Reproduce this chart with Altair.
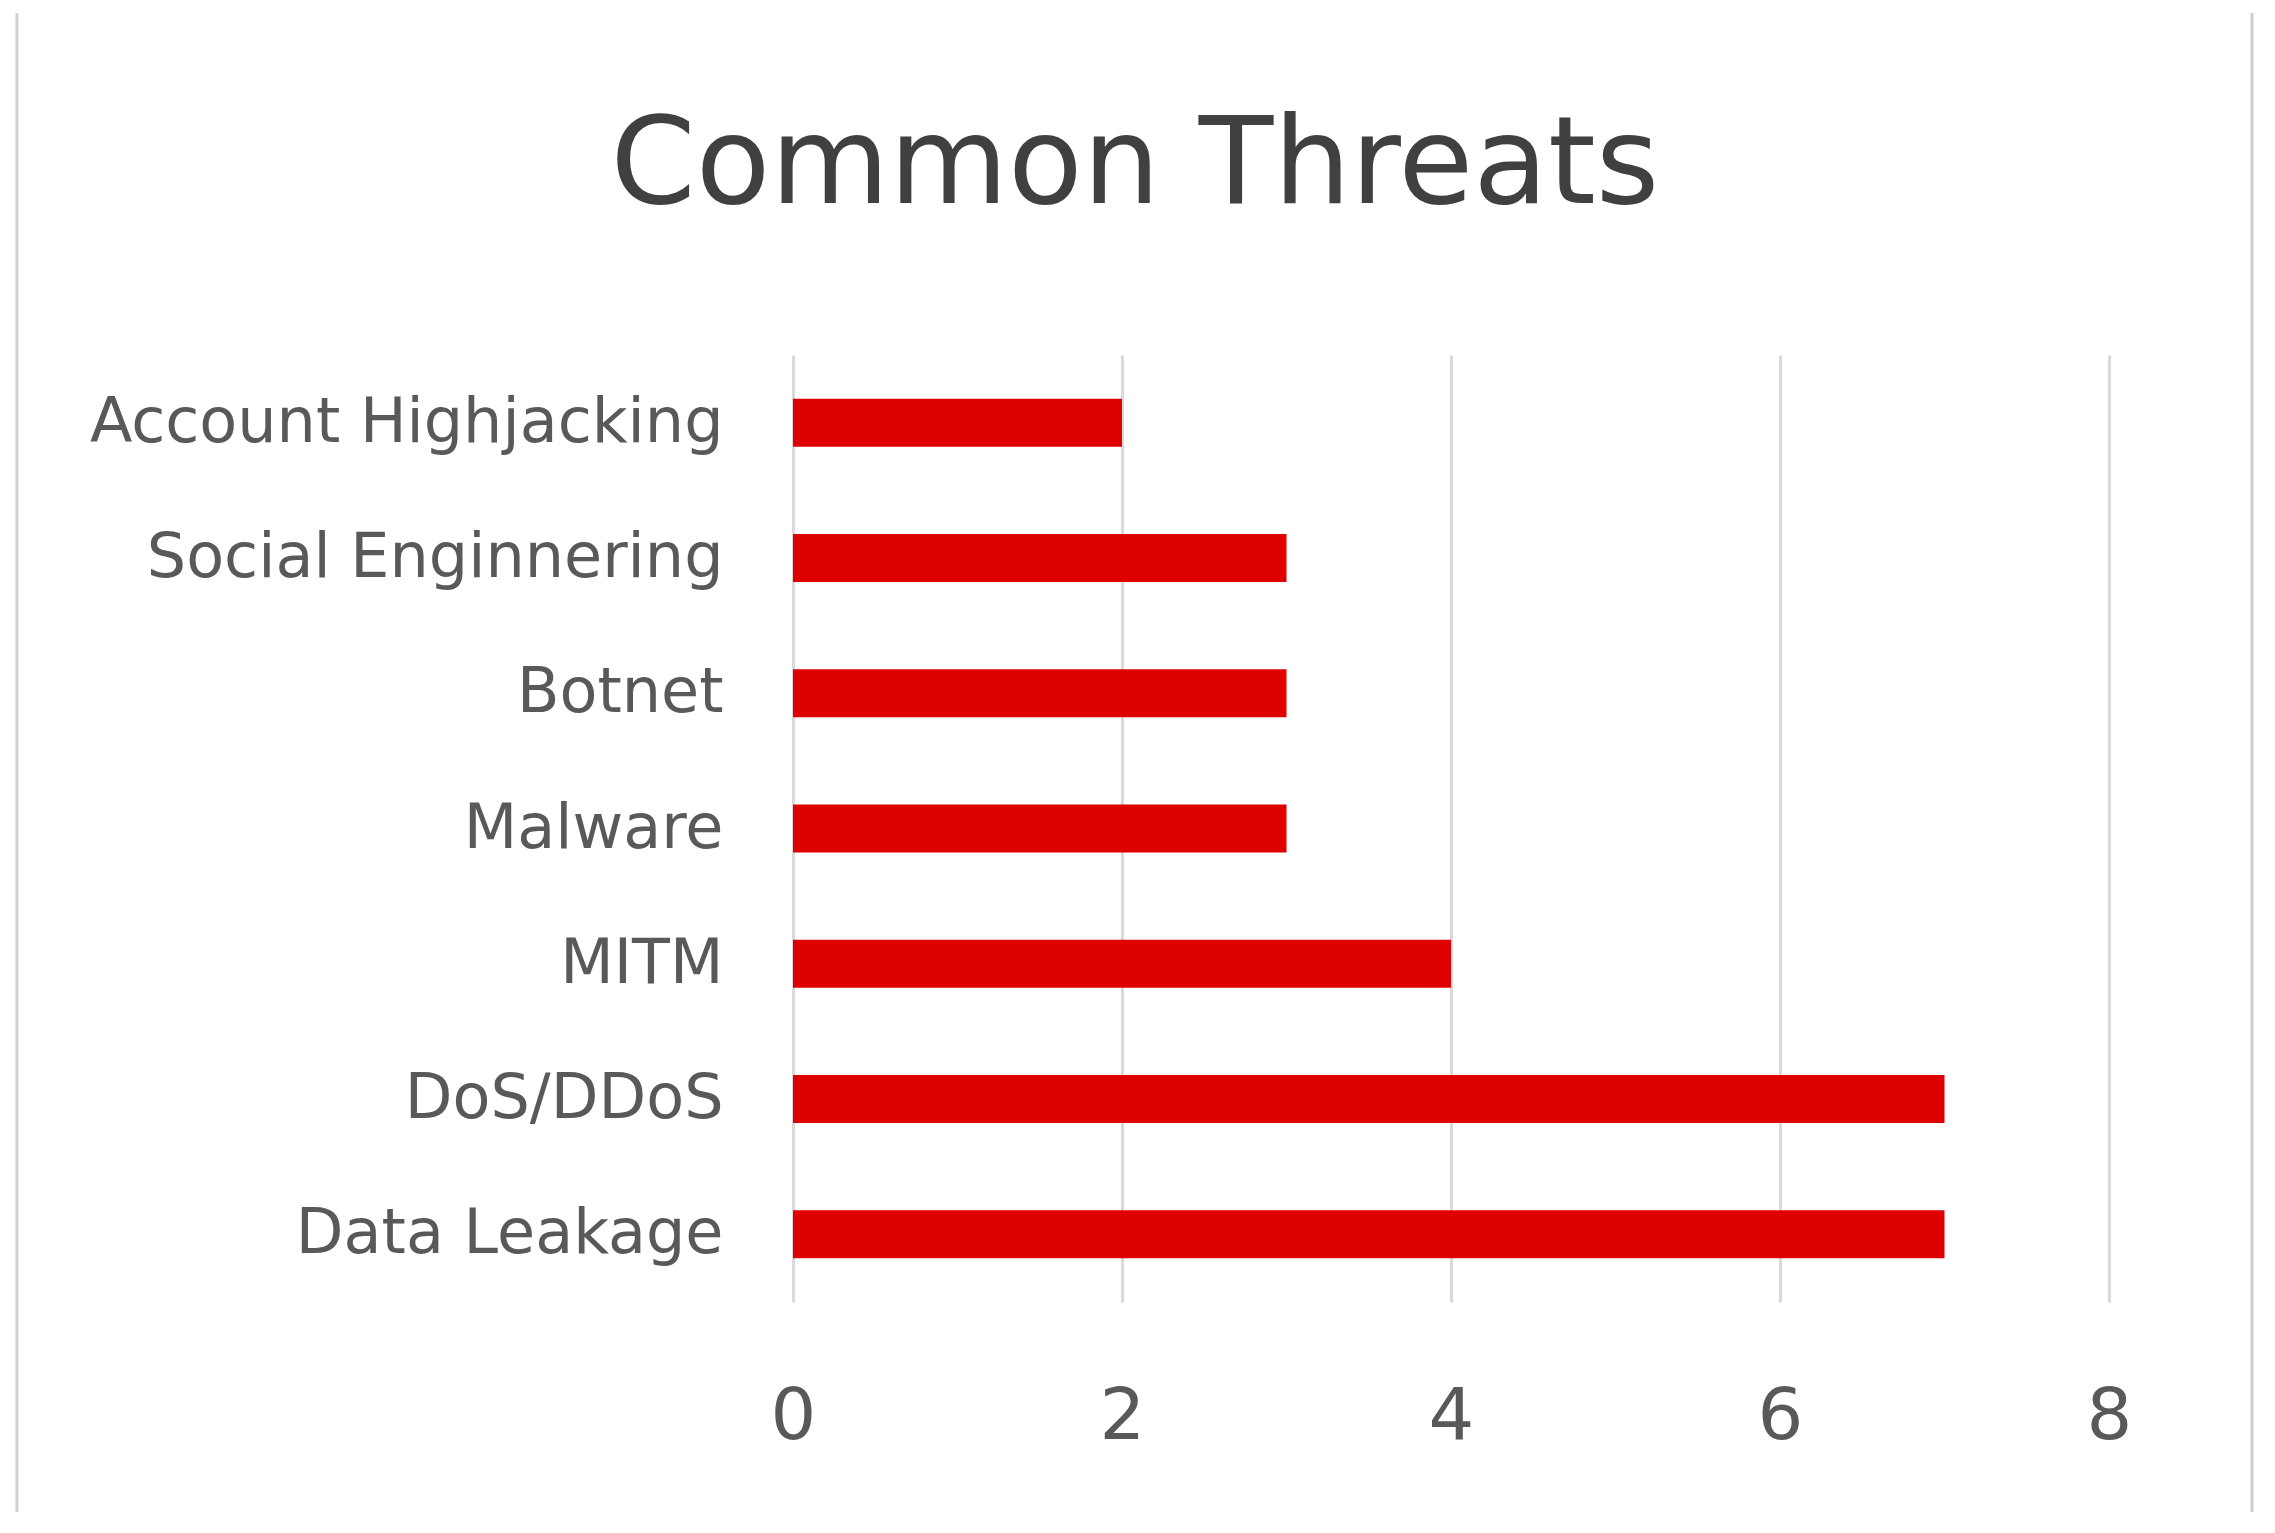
import altair as alt
import pandas as pd

title_text = ["Common Threats"]
categories = ["Account Highjacking", "Social Enginnering", "Botnet", "Malware",
              "MITM", "DoS/DDoS", "Data Leakage"]
values = [2, 3, 3, 3, 4, 7, 7]
x_ticks = [0, 2, 4, 6, 8]

df = pd.DataFrame({"threat": categories, "count": values})

FONT = "DejaVu Sans"

bars = alt.Chart(df).mark_bar(color="#df0000").encode(
    x=alt.X("count:Q",
            scale=alt.Scale(domain=[0, 8], nice=False),
            axis=alt.Axis(values=x_ticks, title=None, grid=True, gridColor="#d9d9d9",
                          gridWidth=3, domain=False, ticks=False, labelFont=FONT,
                          labelFontSize=72, labelColor="#595959", labelPadding=136,
                          labelBaseline="alphabetic", labelFlush=False)),
    y=alt.Y("threat:N", sort=categories,
            scale=alt.Scale(paddingInner=0.645, paddingOuter=0.3225),
            axis=alt.Axis(title=None, domain=False, ticks=False, grid=False,
                          labelFont=FONT, labelFontSize=62, labelPadding=70,
                          labelColor="#595959", labelLimit=0)),
)

one = pd.DataFrame({"k": [0]})
left_line = alt.Chart(one).mark_rule(color="#d0d0d0", strokeWidth=3).encode(
    x=alt.value(-776), y=alt.value(-342), y2=alt.value(1157))
right_line = alt.Chart(one).mark_rule(color="#d0d0d0", strokeWidth=3).encode(
    x=alt.value(1459), y=alt.value(-342), y2=alt.value(1157))

title = alt.Chart(pd.DataFrame({"t": title_text})).mark_text(
    font=FONT, fontSize=122, color="#404040", align="center", baseline="alphabetic"
).encode(text="t:N", x=alt.value(342), y=alt.value(-152))

chart = alt.layer(left_line, right_line, title, bars).properties(
    width=1316,
    height=947,
    background="white",
    padding={"left": 785, "top": 347, "right": 158, "bottom": 223},
    autosize=alt.AutoSizeParams(type="none"),
).configure_view(stroke="transparent", strokeWidth=0)

chart.save("out.html", embed_options={"renderer": "svg", "actions": False})
